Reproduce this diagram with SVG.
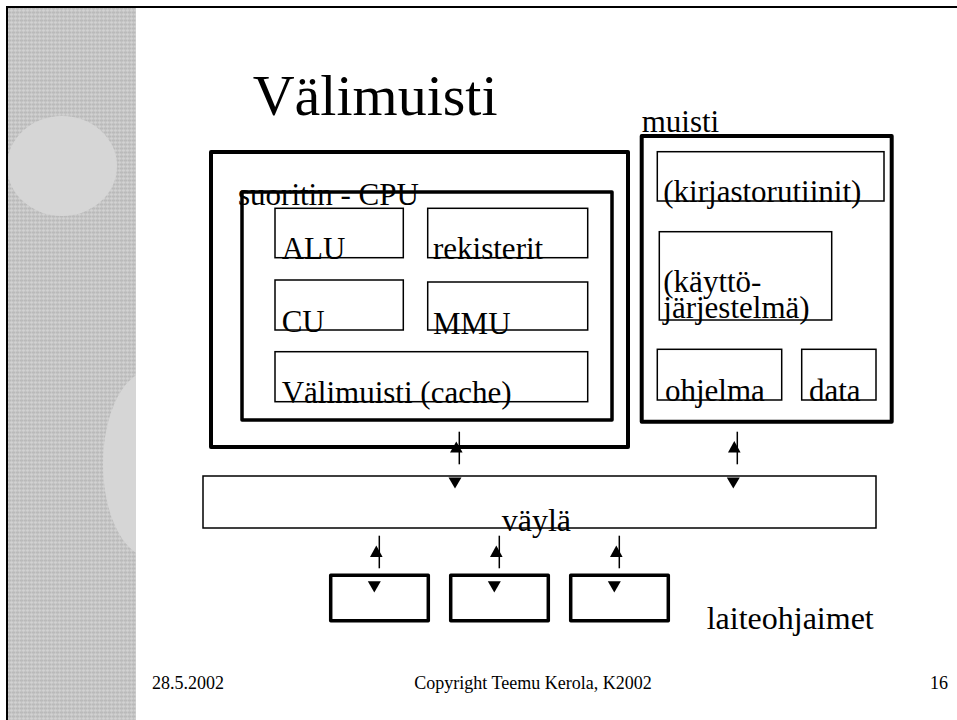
<svg xmlns="http://www.w3.org/2000/svg" width="957" height="720" viewBox="0 0 957 720">
<defs>
<pattern id="tex" width="4" height="4" patternUnits="userSpaceOnUse">
<rect width="4" height="4" fill="#c5c5c5"/>
<rect width="4" height="1" fill="#b9b9b9"/>
<rect y="2" width="4" height="1" fill="#d0d0d0"/>
<rect x="1" width="1" height="4" fill="#bdbdbd" opacity="0.6"/>
<rect x="3" width="1" height="4" fill="#d3d3d3" opacity="0.5"/>
</pattern>
<clipPath id="strip"><rect x="8" y="8" width="128" height="712"/></clipPath>
</defs>
<style>
.t{font-family:"Liberation Serif","Times New Roman",serif;fill:#000}
.lbl{font-size:31px}
.ft{font-size:18px}
.thick{fill:none;stroke:#000;stroke-width:4;stroke-linejoin:round}
.mid{fill:none;stroke:#000;stroke-width:3.5;stroke-linejoin:round}
.thin{fill:none;stroke:#000;stroke-width:1.5}
.ln{stroke:#000;stroke-width:1.5;fill:none}
.ah{fill:#000}
</style>
<rect width="957" height="720" fill="#fff"/>
<g id="background">
<rect x="8" y="8" width="128" height="712" fill="url(#tex)"/>
<g clip-path="url(#strip)">
<ellipse cx="62" cy="166" rx="55" ry="50" fill="#d6d6d6"/>
<ellipse cx="152" cy="464" rx="49" ry="94" fill="#d6d6d6"/>
</g>
<line x1="7" y1="7" x2="957" y2="7" stroke="#000" stroke-width="2"/>
<line x1="7" y1="6" x2="7" y2="720" stroke="#000" stroke-width="2"/>
</g>
<text class="t" x="252.7" y="115" font-size="58">Välimuisti</text>
<g id="cpu-outer"><rect class="thick" x="211" y="152" width="417" height="295"/></g>
<g id="cpu">
<rect class="mid" x="242" y="192" width="370" height="228"/>
<text class="t lbl" x="238" y="205">suoritin - CPU</text>
</g>
<g id="alu"><rect class="thin" x="275" y="208.3" width="128.3" height="49.4"/><text class="t lbl" x="281.7" y="259.3">ALU</text></g>
<g id="rekisterit"><rect class="thin" x="427.7" y="208.3" width="160" height="49.4"/><text class="t lbl" x="433" y="259.3">rekisterit</text></g>
<g id="cu"><rect class="thin" x="275" y="280" width="128.3" height="50"/><text class="t lbl" x="281.7" y="331.7">CU</text></g>
<g id="mmu"><rect class="thin" x="427.7" y="282" width="160" height="48"/><text class="t lbl" x="433" y="334">MMU</text></g>
<g id="cache"><rect class="thin" x="275" y="351.7" width="312.7" height="50"/><text class="t lbl" x="281.7" y="403">Välimuisti (cache)</text></g>
<g id="muisti">
<rect class="thick" x="641.7" y="136" width="250" height="285.7"/>
<text class="t lbl" x="641.7" y="132.3">muisti</text>
</g>
<g id="kirjastorutiinit"><rect class="thin" x="657.3" y="151.7" width="226.7" height="49.3"/><text class="t lbl" x="663.3" y="201.7">(kirjastorutiinit)</text></g>
<g id="kayttojarjestelma"><rect class="thin" x="659.3" y="231.7" width="172.4" height="88.3"/><text class="t lbl" x="663.3" y="292.3">(käyttö-</text><text class="t lbl" x="663.3" y="318.3">järjestelmä)</text></g>
<g id="ohjelma"><rect class="thin" x="657.3" y="349.3" width="124.4" height="50.7"/><text class="t lbl" x="665" y="401.3">ohjelma</text></g>
<g id="data"><rect class="thin" x="801.7" y="349.3" width="74.3" height="50.7"/><text class="t lbl" x="809" y="401.3">data</text></g>
<g id="vayla"><rect class="thin" x="203" y="476" width="673" height="52"/><text class="t" font-size="32" x="501.7" y="531">väylä</text></g>
<g id="laite1"><rect class="mid" x="330.7" y="575.3" width="97.6" height="45.4"/></g>
<g id="laite2"><rect class="mid" x="450.7" y="575.3" width="97.6" height="45.4"/></g>
<g id="laite3"><rect class="mid" x="570.7" y="575.3" width="97.6" height="45.4"/></g>
<text class="t" font-size="32" x="706.7" y="629.3">laiteohjaimet</text>
<g id="connectors">
<line class="ln" x1="459.3" y1="431.7" x2="459.3" y2="464.3"/>
<polygon class="ah" points="456.3,441.5 450,452.5 462.6,452.5"/>
<polygon class="ah" points="455,488.5 448.5,477.5 461.5,477.5"/>
<line class="ln" x1="737.3" y1="431.7" x2="737.3" y2="464.3"/>
<polygon class="ah" points="734.3,441 728,452.5 740.6,452.5"/>
<polygon class="ah" points="733.3,488.5 726.8,477.5 739.8,477.5"/>
<line class="ln" x1="379.3" y1="535.7" x2="379.3" y2="568.3"/>
<polygon class="ah" points="376.3,545.5 370,557 382.6,557"/>
<polygon class="ah" points="374.3,592.5 367.8,581.3 380.8,581.3"/>
<line class="ln" x1="499.3" y1="535.7" x2="499.3" y2="568.3"/>
<polygon class="ah" points="496.3,545.5 490,557 502.6,557"/>
<polygon class="ah" points="494.3,592.5 487.8,581.3 500.8,581.3"/>
<line class="ln" x1="619.3" y1="535.7" x2="619.3" y2="568.3"/>
<polygon class="ah" points="616.3,545.5 610,557 622.6,557"/>
<polygon class="ah" points="614.3,592.5 607.8,581.3 620.8,581.3"/>
</g>
<g id="footer">
<text class="t ft" x="152" y="689">28.5.2002</text>
<text class="t ft" x="533" y="689" text-anchor="middle">Copyright Teemu Kerola, K2002</text>
<text class="t ft" x="948" y="689" text-anchor="end">16</text>
</g>
</svg>
